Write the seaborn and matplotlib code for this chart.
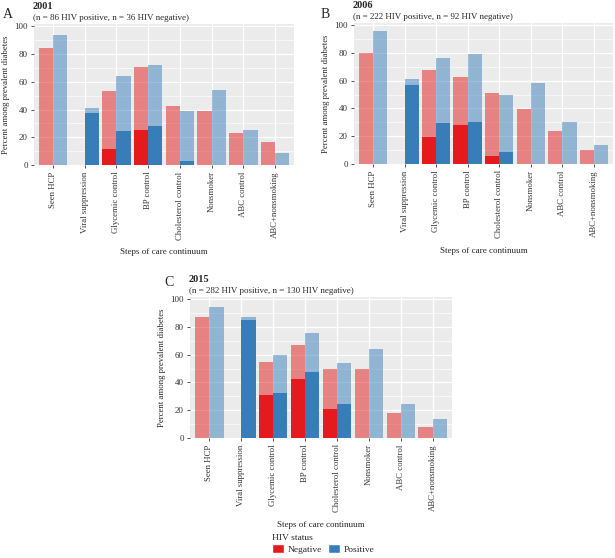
import numpy as np
import pandas as pd
import seaborn as sns
import matplotlib.pyplot as plt
from matplotlib.patches import Patch
from matplotlib.ticker import MultipleLocator

steps = ["Seen HCP", "Viral suppression", "Glycemic control", "BP control",
         "Cholesterol control", "Nonsmoker", "ABC control", "ABC+nonsmoking"]
statuses = ["Negative", "Positive"]

# light bars: overall percentage per step (None = not shown)
neg_2001 = [84, None, 53.5, 70.4, 42.4, 39, 23, 17]
pos_2001 = [94, 41, 64.5, 71.8, 38.8, 54, 25.5, 8.4]
neg_2006 = [80, None, 67.5, 63, 51.3, 39.4, 24, 9.8]
pos_2006 = [96, 61.3, 76, 79, 49.9, 58, 30, 14]
neg_2015 = [87.3, None, 54.7, 66.8, 49.8, 49.4, 17.8, 7.8]
pos_2015 = [94, 86.8, 59.9, 75.4, 54.3, 64.2, 24.3, 13.4]

# dark bars: conditional on earlier steps
neg_dark_2001 = [None, None, 11.3, 25.3, None, None, None, None]
pos_dark_2001 = [None, 37.8, 24.8, 28.4, 2.7, None, None, None]
neg_dark_2006 = [None, None, 19.5, 28.1, 6, None, None, None]
pos_dark_2006 = [None, 57, 29.9, 30.3, 8.7, None, None, None]
neg_dark_2015 = [None, None, 30.7, 42.8, 20.9, None, None, None]
pos_dark_2015 = [None, 84.8, 32.6, 47.2, 24.3, None, None, None]

years = ["2001", "2006", "2015"]
letters = ["A", "B", "C"]
subtitles = ["(n = 86 HIV positive, n = 36 HIV negative)",
             "(n = 222 HIV positive, n = 92 HIV negative)",
             "(n = 282 HIV positive, n = 130 HIV negative)"]
light = [(neg_2001, pos_2001), (neg_2006, pos_2006), (neg_2015, pos_2015)]
dark = [(neg_dark_2001, pos_dark_2001), (neg_dark_2006, pos_dark_2006),
        (neg_dark_2015, pos_dark_2015)]

palette = {"Negative": "#E41A1C", "Positive": "#377EB8"}


def to_frame(neg, pos):
    rows = []
    for status, vals in zip(statuses, (neg, pos)):
        for step, v in zip(steps, vals):
            if v is not None:
                rows.append({"step": step, "status": status, "value": v})
    return pd.DataFrame(rows)


sns.set_theme(style="darkgrid")
plt.rcParams["font.family"] = ["Liberation Serif", "DejaVu Serif"]
plt.rcParams["axes.facecolor"] = "#EBEBEB"

fig = plt.figure(figsize=(6.15, 5.58), dpi=100)
boxes = [[0.0553, 0.704, 0.4228, 0.2527],
         [0.5756, 0.706, 0.4211, 0.2527],
         [0.309, 0.215, 0.426, 0.2527]]
letter_pos = [(0.005, 0.985), (0.522, 0.985), (0.268, 0.505)]

for i in range(3):
    ax = fig.add_axes(boxes[i])
    df_l = to_frame(*light[i])
    df_d = to_frame(*dark[i])
    sns.barplot(data=df_l, x="step", y="value", hue="status", order=steps,
                hue_order=statuses, palette=palette, alpha=0.5, width=0.9,
                saturation=1, linewidth=0, errorbar=None, legend=False,
                ax=ax, zorder=2)
    sns.barplot(data=df_d, x="step", y="value", hue="status", order=steps,
                hue_order=statuses, palette=palette, width=0.9, saturation=1,
                linewidth=0, errorbar=None, legend=False, ax=ax, zorder=3)
    ax.set_xlim(-0.6, 7.6)
    ax.set_ylim(0, 101.5)
    ax.yaxis.set_major_locator(MultipleLocator(20))
    ax.yaxis.set_minor_locator(MultipleLocator(10))
    ax.grid(which="major", color="white", linewidth=0.9, zorder=0)
    ax.grid(which="minor", axis="y", color="white", linewidth=0.45, zorder=0)
    ax.set_axisbelow(True)
    for s in ax.spines.values():
        s.set_visible(False)
    ax.tick_params(axis="x", labelrotation=90, labelsize=6.3, colors="#333333",
                   length=2.5, width=0.6, pad=2, bottom=True, color="#333333")
    ax.tick_params(axis="y", labelsize=6.5, colors="#333333", length=2.5,
                   width=0.6, pad=2, left=True, color="#333333")
    ax.tick_params(which="minor", length=0)
    ax.set_ylabel("Percent among prevalent diabetes", fontsize=6.3, labelpad=3)
    ax.set_xlabel("Steps of care continuum", fontsize=6.5, labelpad=6)
    ax.text(-0.005, 1.09, years[i], transform=ax.transAxes, fontsize=7.5,
            fontweight="bold", va="bottom", ha="left")
    ax.text(-0.005, 1.015, subtitles[i], transform=ax.transAxes, fontsize=6.5,
            va="bottom", ha="left")
    fig.text(*letter_pos[i], letters[i], fontsize=10, va="top")

handles = [Patch(facecolor=palette[s], label=s) for s in statuses]
leg = fig.legend(handles=handles, title="HIV status", ncol=2, frameon=False,
                 loc="lower left", bbox_to_anchor=(0.432, -0.004), fontsize=6.8,
                 title_fontsize=6.8, handlelength=1.25, handleheight=1.05,
                 handletextpad=0.4, columnspacing=0.6, borderpad=0.2,
                 labelspacing=0.2, alignment="left")

fig.savefig("out.png", dpi=100)
